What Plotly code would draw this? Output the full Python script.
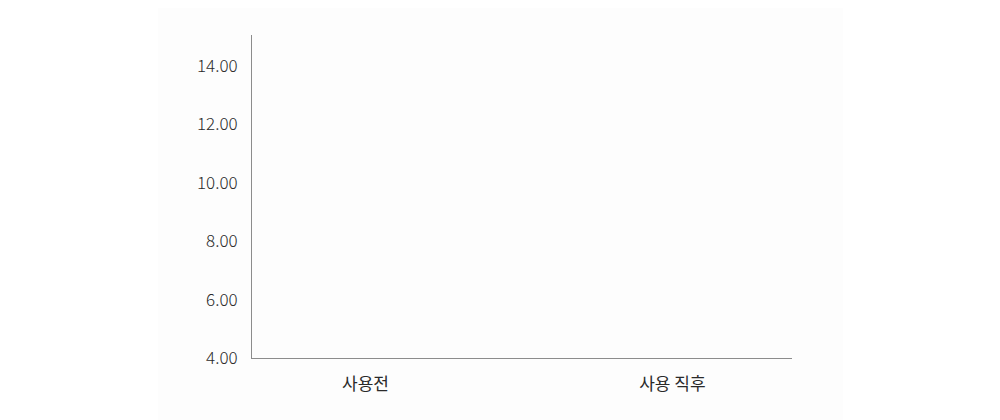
import plotly.graph_objects as go

# 항목 / 값 (그림에는 막대가 보이지 않음)
categories = ["사용전", "사용 직후"]
values = [None, None]
y_tickvals = [4, 6, 8, 10, 12, 14]
y_ticktext = ["4.00", "6.00", "8.00", "10.00", "12.00", "14.00"]

font_kr = "Noto Sans CJK KR"

fig = go.Figure()
fig.add_trace(go.Bar(x=categories, y=values, marker_color="#8a8a8a",
                     showlegend=False, hoverinfo="skip"))

# 옅은 배경 영역
fig.add_shape(type="rect", xref="paper", yref="paper",
              x0=(158 - 252) / 540, x1=(843 - 252) / 540, y0=-0.3, y1=1.2,
              fillcolor="#fdfdfd", line_width=0, layer="below")

fig.update_layout(
    width=1000, height=420,
    margin=dict(l=244, r=216, t=27, b=70),
    paper_bgcolor="white", plot_bgcolor="rgba(0,0,0,0)",
    font=dict(family=font_kr, size=17, color="#2a2a2a"),
    xaxis=dict(type="category", range=[-0.37, 1.39], showgrid=False,
               showline=True, linecolor="#8c8c8c", linewidth=1,
               ticks="", ticklabelstandoff=11, zeroline=False,
               tickfont=dict(family=font_kr, size=17, color="#2a2a2a")),
    yaxis=dict(range=[4, 15.06], tickvals=y_tickvals, ticktext=y_ticktext,
               showgrid=False, showline=True, linecolor="#8c8c8c",
               linewidth=1, ticks="", ticklabelstandoff=10, zeroline=False,
               tickfont=dict(family=font_kr, size=17, weight=300,
                             color="#2a2a2a")),
)

fig.write_html("out.html")
